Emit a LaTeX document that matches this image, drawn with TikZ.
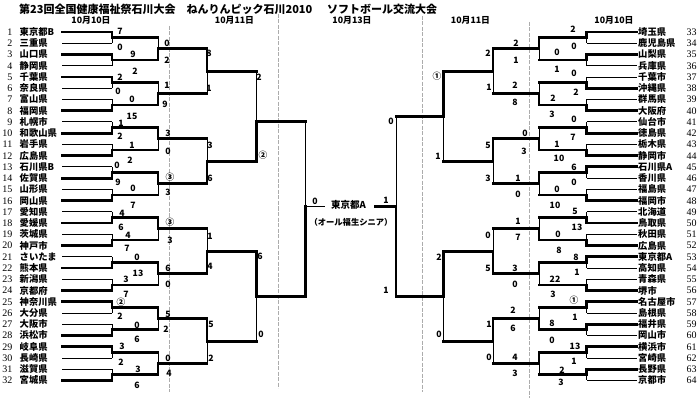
\documentclass[tikz,border=0pt]{standalone}
\usepackage{fontspec}
\setmainfont{Liberation Serif}
\newfontfamily\jp{Noto Sans CJK JP}
\tikzset{
  thinl/.style={line width=0.9pt, black},
  thickl/.style={line width=2.8pt, black, line cap=rect},
  gridl/.style={line width=0.7pt, gray!65, dash pattern=on 4pt off 1.5pt},
  tname/.style={font=\jp\bfseries\fontsize{9.3}{9.3}\selectfont, inner sep=0pt, anchor=west, text height=7.9pt, text depth=0.9pt},
  tnum/.style={font=\fontsize{10}{10}\selectfont, inner sep=0pt, text height=6.8pt, text depth=0pt},
  score/.style={font=\jp\bfseries\fontsize{8.7}{8.7}\selectfont, inner sep=0pt, text height=6.2pt, text depth=0pt},
  titlet/.style={font=\jp\bfseries\fontsize{11}{11}\selectfont, inner sep=0pt, anchor=west},
  datet/.style={font=\jp\bfseries\fontsize{8.8}{8.8}\selectfont, inner sep=0pt},
  champ/.style={font=\jp\bfseries\fontsize{9.5}{9.5}\selectfont, inner sep=0pt},
  champsub/.style={font=\jp\bfseries\fontsize{8.3}{8.3}\selectfont, inner sep=0pt}
}
\newcommand\BJoin[7]{%
  \coordinate (#7a) at (#1,#3);
  \coordinate (#7b) at (#1,#4);
  \coordinate (#7m) at (#1,#5);
  \coordinate (#7n) at (#2,#5);
  \draw[thinl] (#7a) -- (#7b);
  \ifnum#6=1\relax
    \draw[thickl] (#7a) -- (#7m) -- (#7n);
  \else
    \draw[thickl] (#7b) -- (#7m) -- (#7n);
  \fi}
\newcommand\BLevel[6]{%
  \pgfmathsetmacro\BYa{32+((2*#4-1.5)*2^(#3-1)-0.5)*11.24}%
  \pgfmathsetmacro\BYb{32+((2*#4-0.5)*2^(#3-1)-0.5)*11.24}%
  \pgfmathsetmacro\BYm{32+((#4-0.5)*2^(#3)-0.5)*11.24}%
  \BJoin{#1}{#2}{\BYa}{\BYb}{\BYm}{#5}{#6}}
\newcommand\BTeam[3]{%
  \path (#2a) ++(#1,0) coordinate (#2ta);
  \path (#2b) ++(#1,0) coordinate (#2tb);
  \ifnum#3=1\relax
    \draw[thickl] (#2ta) -- (#2a); \draw[thinl] (#2tb) -- (#2b);
  \else
    \draw[thinl] (#2ta) -- (#2a); \draw[thickl] (#2tb) -- (#2b);
  \fi}
\begin{document}
\begin{tikzpicture}[x=1pt,y=-1pt]
\useasboundingbox (0,0) rectangle (700,403);
\fill[white] (0,0) rectangle (700,403);
% day separators
\foreach \gx/\ga/\gb [count=\g] in {169.5/26/392, 278.3/14/388, 422.3/16/392, 529/22/398} {
  \coordinate (ga\g) at (\gx,\ga); \coordinate (gb\g) at (\gx,\gb);
  \draw[gridl] (ga\g) -- (gb\g);
}
% titles
\node[titlet] (title1) at (19,9.5) {第23回全国健康福祉祭石川大会　ねんりんピック石川2010};
\node[titlet] (title2) at (327,9.5) {ソフトボール交流大会};
\node[datet] (d1) at (91,20) {10月10日};
\node[datet] (d2) at (234.5,20) {10月11日};
\node[datet] (d3) at (352,20) {10月13日};
\node[datet] (d4) at (470.5,20) {10月11日};
\node[datet] (d5) at (614,20) {10月10日};
% teams left
\foreach \nm [count=\i] in {東京都B,三重県,山口県,静岡県,千葉県,奈良県,富山県,福岡県,札幌市,和歌山県,岩手県,広島県,石川県B,佐賀県,山形県,岡山県,愛知県,愛媛県,茨城県,神戸市,さいたま,熊本県,新潟県,京都府,神奈川県,大分県,大阪市,浜松市,岐阜県,長崎県,滋賀県,宮城県} {
  \pgfmathsetmacro\YY{32+(\i-1)*11.24}
  \node[tname] (t\i) at (19.5,\YY) {\nm};
  \node[tnum, anchor=east] (n\i) at (12.5,\YY) {\i};
}
% teams right
\foreach \nm [count=\i from 33] in {埼玉県,鹿児島県,山梨県,兵庫県,千葉市,沖縄県,群馬県,大阪府,仙台市,徳島県,栃木県,静岡市,石川県A,香川県,福島県,福岡市,北海道,鳥取県,秋田県,広島県,東京都A,高知県,青森県,堺市,名古屋市,島根県,福井県,岡山市,横浜市,宮崎県,長野県,京都市} {
  \pgfmathsetmacro\YY{32+(\i-33)*11.24}
  \node[tname] (t\i) at (638,\YY) {\nm};
  \node[tnum, anchor=west] (n\i) at (686.5,\YY) {\i};
}
% left bracket
\foreach \w [count=\k] in {1,1,1,2,2,2,2,2,2,2,2,2,1,2,1,2} {
  \BLevel{112}{158}{1}{\k}{\w}{La\k}
  \BTeam{-50}{La\k}{\w}
}
\foreach \w [count=\k] in {2,2,1,1,1,1,1,2} { \BLevel{158}{207}{2}{\k}{\w}{Lb\k} }
\foreach \w [count=\k] in {1,2,2,1} { \BLevel{207}{256.5}{3}{\k}{\w}{Lc\k} }
\BJoin{256.5}{305.5}{71.34}{161.26}{121.7}{2}{Ld1}
\BJoin{256.5}{305.5}{251.18}{341.1}{296.14}{1}{Ld2}
\coordinate (Lea) at (305.5,121.7);
\coordinate (Leb) at (305.5,296.14);
\coordinate (Lem) at (305.5,206.5);
\coordinate (Len) at (325,206.5);
\draw[thinl] (Lea) -- (Leb);
\draw[thickl] (Leb) -- (Lem);
\draw[thinl] (Lem) -- (Len);
% right bracket
\foreach \w [count=\k] in {1,1,2,2,2,2,1,2,2,2,1,2,1,1,1,1} {
  \BLevel{586.5}{539}{1}{\k}{\w}{Ra\k}
  \BTeam{50}{Ra\k}{\w}
}
\foreach \w [count=\k] in {1,2,2,1,2,1,2,1} { \BLevel{539}{493}{2}{\k}{\w}{Rb\k} }
\foreach \w [count=\k] in {1,1,2,1} { \BLevel{493}{443.3}{3}{\k}{\w}{Rc\k} }
\BJoin{443.3}{396}{71.34}{161.26}{116.3}{1}{Rd1}
\BJoin{443.3}{396}{251.18}{341.1}{296.14}{1}{Rd2}
\coordinate (Rea) at (396,116.3);
\coordinate (Reb) at (396,296.14);
\coordinate (Rem) at (396,206.5);
\coordinate (Ren) at (375,206.5);
\draw[thinl] (Rea) -- (Reb);
\draw[thickl] (Reb) -- (Rem) -- (Ren);
% champion
\node[champ] (champ) at (348.5,205) {東京都A};
\node[champsub] (champsub) at (351,222.3) {（オール福生シニア）};
% scores
\foreach \sx/\sy/\st [count=\k] in {
 120/31/7, 120/47/0, 133/54/9, 135/71/2, 120/77/2, 118/91/0, 132/99/0, 132/116/15,
 121/123/1, 120/136/2, 132/145/1, 130/160/2, 117/165/0, 118/182/9, 133/188/0, 133/205/7,
 122/213/4, 121/227/6, 128/235/4, 127/248/7, 137/257/0, 138/273/13, 126/279/3, 126/294/7,
 121/302/②, 120/316/2, 137/325/0, 137/339/6, 122/346/3, 121/362/2, 138/369/3, 137/385/6,
 167/43/0, 167/60/2, 167/85/1, 165/104/9, 168/133/3, 168/151/0, 170/177/③, 168/192/3,
 170/222/③, 170/240/3, 168/268/6, 168/284/0, 168/314/5, 166/329/2, 168/358/0, 169/373/4,
 209/53/8, 209/88/1, 210/145/3, 210/178/6, 210/236/1, 210/266/4, 211/324/5, 211/358/2,
 259/77/2, 263/155/②, 260/256/6, 261/334/0,
 315/201/0, 386/200/1,
 391/121/0, 386/290/1,
 437/76/①, 438/156/1, 439/257/2, 439/334/0,
 488/53/2, 489/87/1, 488/145/5, 488/178/3, 488/235/0, 488/268/5, 489/324/1, 489/357/0,
 516/43/2, 516/60/1, 515/85/2, 515/102/8, 525/133/0, 524/151/3, 518/178/1, 518/194/0,
 518/221/1, 518/237/7, 515/268/3, 515/284/0, 513/310/2, 513/328/6, 515/357/4, 515/373/3,
 573/29/2, 574/46/0, 557/52/0, 557/69/1, 574/73/0, 576/92/2, 553/98/2, 552/114/3,
 574/119/0, 573/137/7, 557/144/1, 559/158/10, 574/167/6, 574/182/0, 557/189/0, 555/205/10,
 575/211/5, 577/227/13, 558/234/0, 559/250/8, 576/257/8, 577/272/1, 555/279/22, 553/294/3,
 574/300/①, 575/317/1, 552/323/8, 552/340/0, 575/346/13, 574/361/1, 562/370/2, 561/382/3} {
  \node[score] (s\k) at (\sx,\sy) {\st};
}
\end{tikzpicture}
\end{document}
